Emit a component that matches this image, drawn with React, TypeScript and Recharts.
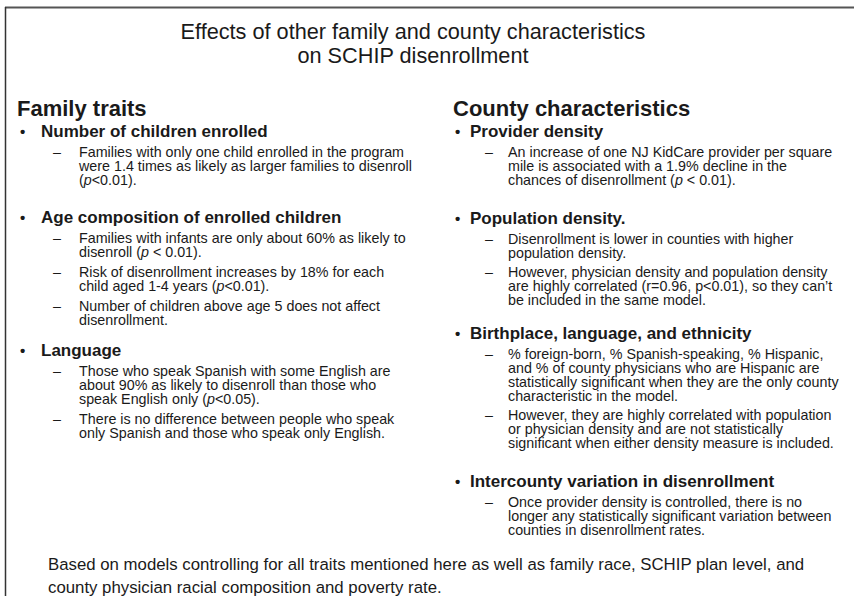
import { Surface, Layer } from 'recharts'

const titleLines = ['Effects of other family and county characteristics', 'on SCHIP disenrollment']

const leftHeading = 'Family traits'
const leftTopics = ['Number of children enrolled', 'Age composition of enrolled children', 'Language']
const leftPoints = [
  [['Families with only one child enrolled in the program', 'were 1.4 times as likely as larger families to disenroll', '(|p|<0.01).']],
  [
    ['Families with infants are only about 60% as likely to', 'disenroll (|p| < 0.01).'],
    ['Risk of disenrollment increases by 18% for each', 'child aged 1-4 years (|p|<0.01).'],
    ['Number of children above age 5 does not affect', 'disenrollment.'],
  ],
  [
    ['Those who speak Spanish with some English are', 'about 90% as likely to disenroll than those who', 'speak English only (|p|<0.05).'],
    ['There is no difference between people who speak', 'only Spanish and those who speak only English.'],
  ],
]

const rightHeading = 'County characteristics'
const rightTopics = ['Provider density', 'Population density.', 'Birthplace, language, and ethnicity', 'Intercounty variation in disenrollment']
const rightPoints = [
  [['An increase of one NJ KidCare provider per square', 'mile is associated with a 1.9% decline in the', 'chances of disenrollment (|p| < 0.01).']],
  [
    ['Disenrollment is lower in counties with higher', 'population density.'],
    ['However, physician density and population density', 'are highly correlated (r=0.96, p<0.01), so they can\u2019t', 'be included in the same model.'],
  ],
  [
    ['% foreign-born, % Spanish-speaking, % Hispanic,', 'and % of county physicians who are Hispanic are', 'statistically significant when they are the only county', 'characteristic in the model.'],
    ['However, they are highly correlated with population', 'or physician density and are not statistically', 'significant when either density measure is included.'],
  ],
  [['Once provider density is controlled, there is no', 'longer any statistically significant variation between', 'counties in disenrollment rates.']],
]

const footerLines = [
  'Based on models controlling for all traits mentioned here as well as family race, SCHIP plan level, and',
  'county physician racial composition and poverty rate.',
]

// layout
const W = 854
const H = 596
const FONT = '"Liberation Sans", Arial, Helvetica, sans-serif'
const INK = '#1a1a1a'
const LINE = 14

// one <text> per paragraph, one tspan row per line; "|p|" marks an italic p
function Para({ x, y, lines, size, lh, anchor }: { x: number; y: number; lines: string[]; size: number; lh: number; anchor?: 'start' | 'middle' }) {
  return (
    <text x={x} y={y} fontSize={size} fill={INK} textAnchor={anchor ?? 'start'}>
      {lines.map((ln, li) => (
        <tspan key={li} x={x} dy={li === 0 ? 0 : lh}>
          {ln.split('|').map((p, i) => (
            <tspan key={i} fontStyle={i % 2 === 1 ? 'italic' : 'normal'}>{p}</tspan>
          ))}
        </tspan>
      ))}
    </text>
  )
}

type Geo = { head: number; bullet: number; topic: number; dash: number; text: number; topicY: number[]; gap: number }

function Column({ heading, topics, points, g }: { heading: string; topics: string[]; points: string[][][]; g: Geo }) {
  return (
    <Layer>
      <text x={g.head} y={116} fontSize={22} fontWeight="bold" fill={INK}>{heading}</text>
      {topics.map((t, ti) => {
        let y = g.topicY[ti] + 20
        return (
          <Layer key={t}>
            <text x={g.bullet} y={g.topicY[ti]} fontSize={15} fontWeight="bold" fill={INK}>{'\u2022'}</text>
            <text x={g.topic} y={g.topicY[ti]} fontSize={17} fontWeight="bold" fill={INK}>{t}</text>
            {points[ti].map((pt, pi) => {
              const y0 = y
              y += pt.length * LINE + g.gap
              return (
                <Layer key={pi}>
                  <text x={g.dash} y={y0} fontSize={14.3} fill={INK}>{'\u2013'}</text>
                  <Para x={g.text} y={y0} lines={pt} size={14.3} lh={LINE} />
                </Layer>
              )
            })}
          </Layer>
        )
      })}
    </Layer>
  )
}

const leftGeo: Geo = { head: 17, bullet: 20, topic: 41, dash: 53, text: 79, topicY: [137, 223, 356], gap: 6 }
const rightGeo: Geo = { head: 453, bullet: 455, topic: 470, dash: 485, text: 508, topicY: [137, 224, 339, 487], gap: 5 }

export default function App() {
  return (
    <div style={{ position: 'absolute', left: 0, top: 0, width: W, height: H, background: '#fff' }}>
      <Surface width={W} height={H} style={{ fontFamily: FONT }}>
        <line x1={5} y1={7.5} x2={W} y2={7.5} stroke="#555" strokeWidth={2} />
        <line x1={5.5} y1={7} x2={5.5} y2={H} stroke="#333" strokeWidth={1.5} />
        <Para x={413} y={39} lines={titleLines} size={21.7} lh={24} anchor="middle" />
        <Column heading={leftHeading} topics={leftTopics} points={leftPoints} g={leftGeo} />
        <Column heading={rightHeading} topics={rightTopics} points={rightPoints} g={rightGeo} />
        <Para x={48} y={570} lines={footerLines} size={16.8} lh={23} />
      </Surface>
    </div>
  )
}
